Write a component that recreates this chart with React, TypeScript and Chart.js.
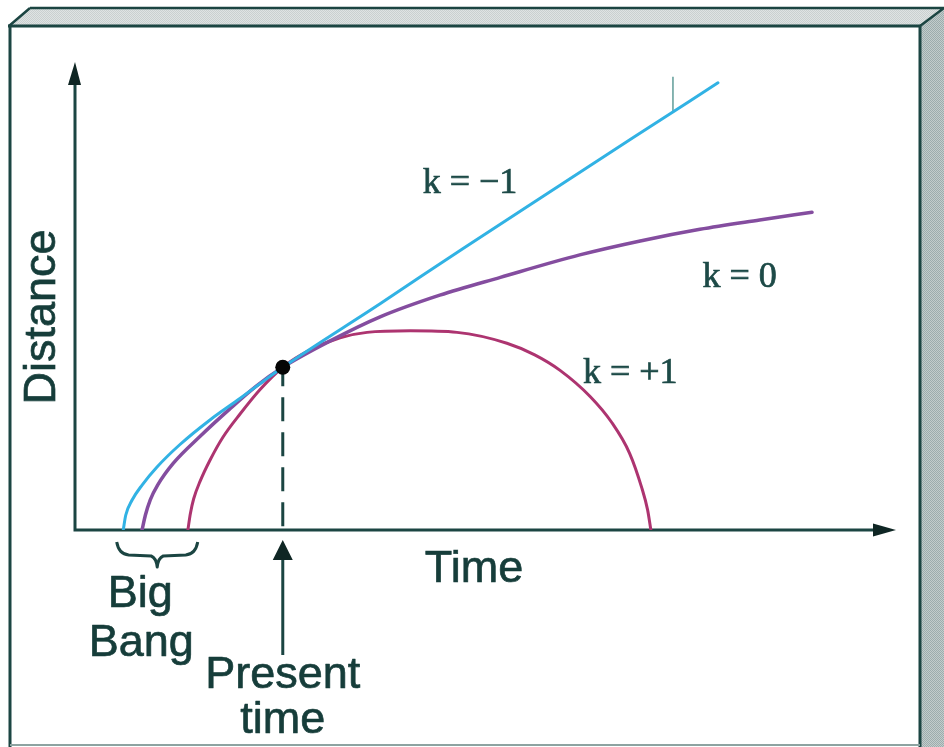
import { useEffect, useRef } from "react";
import { Chart, registerables } from "chart.js";

Chart.register(...registerables);

// Horizontal axis: time (0–10), vertical axis: distance (0–6), arbitrary units.
const TIME_MAX = 10;
const DIST_MAX = 6;

// Open universe, k = −1
const openTime = [0.59, 0.62, 0.7, 0.82, 1.0, 1.28, 1.65, 2.02, 2.29, 2.54, 3.73, 4.74, 5.77, 6.82, 7.86];
const openDist = [0, 0.19, 0.39, 0.58, 0.81, 1.1, 1.42, 1.7, 1.91, 2.1, 2.92, 3.63, 4.34, 5.06, 5.77];

// Flat universe, k = 0
const flatTime = [0.82, 0.86, 0.92, 1.01, 1.2, 1.53, 1.89, 2.22, 2.54, 3.12, 3.73, 4.46, 5.2, 6.17, 6.91, 7.64, 8.37, 9.01];
const flatDist = [0, 0.19, 0.39, 0.58, 0.86, 1.21, 1.56, 1.86, 2.1, 2.44, 2.75, 3.03, 3.26, 3.55, 3.73, 3.88, 4.0, 4.1];

// Closed universe, k = +1
const closedTime = [1.38, 1.41, 1.45, 1.53, 1.65, 1.81, 2.02, 2.26, 2.54, 2.87, 3.24, 3.57, 4.1, 4.67, 5.28, 5.62, 5.93, 6.3, 6.56, 6.78, 6.93, 7.0, 7.04];
const closedDist = [0, 0.21, 0.4, 0.63, 0.9, 1.2, 1.5, 1.81, 2.1, 2.32, 2.48, 2.55, 2.57, 2.55, 2.41, 2.26, 2.06, 1.72, 1.39, 0.99, 0.54, 0.26, 0];

// Where we are today
const presentTime = 2.54;
const presentDist = 2.1;

// Short vertical stroke above the k = −1 line
const stubTime = [7.31, 7.31];
const stubDist = [5.38, 5.85];

// Range of Big Bang moments marked by the brace
const bigBangTime = [0.51, 1.5];

const curveLabels = ["k = −1", "k = 0", "k = +1"];
const curveLabelTime = [4.25, 7.67, 6.21];
const curveLabelDist = [4.35, 3.14, 1.9];

const W = 944;
const H = 747;
const INK = "#1b4542";
const TEXT = "#163d3a";
const SANS = "'Liberation Sans', Arial, sans-serif";
const SERIF = "'Liberation Serif', 'Times New Roman', serif";

const pts = (xs: number[], ys: number[]) => xs.map((x, i) => ({ x, y: ys[i] }));

function ditherPattern(ctx: CanvasRenderingContext2D, a: string, b: string) {
  const c = document.createElement("canvas");
  c.width = 4;
  c.height = 4;
  const p = c.getContext("2d")!;
  p.fillStyle = a;
  p.fillRect(0, 0, 4, 4);
  p.fillStyle = b;
  for (let y = 0; y < 4; y++) {
    for (let x = 0; x < 4; x++) {
      if ((x + y) % 2 === 0) p.fillRect(x, y, 1, 1);
    }
  }
  return ctx.createPattern(c, "repeat")!;
}

// Text drawn with a hairline outline so it reads a little heavier
function label(ctx: CanvasRenderingContext2D, text: string, x: number, y: number) {
  ctx.fillText(text, x, y);
  ctx.strokeText(text, x, y);
}

// Bevelled panel behind the diagram
const framePlugin = {
  id: "frame",
  beforeDraw(chart: any) {
    const ctx: CanvasRenderingContext2D = chart.ctx;
    ctx.save();
    ctx.fillStyle = "#ffffff";
    ctx.fillRect(0, 0, W, H);

    // right face
    ctx.fillStyle = ditherPattern(ctx, "#c3cccc", "#9cadad");
    ctx.beginPath();
    ctx.moveTo(920, 26);
    ctx.lineTo(944, 8);
    ctx.lineTo(944, H);
    ctx.lineTo(920, H);
    ctx.closePath();
    ctx.fill();

    // top face
    ctx.fillStyle = ditherPattern(ctx, "#dfe3e3", "#c9d0d0");
    ctx.beginPath();
    ctx.moveTo(9, 26);
    ctx.lineTo(30, 8);
    ctx.lineTo(944, 8);
    ctx.lineTo(920, 26);
    ctx.closePath();
    ctx.fill();

    ctx.strokeStyle = INK;
    ctx.lineCap = "butt";
    ctx.lineWidth = 2.5;
    ctx.beginPath();
    ctx.moveTo(30, 8);
    ctx.lineTo(944, 8);
    ctx.moveTo(9, 26);
    ctx.lineTo(30, 8);
    ctx.moveTo(920, 26);
    ctx.lineTo(944, 8);
    ctx.stroke();

    ctx.lineWidth = 3;
    ctx.beginPath();
    ctx.moveTo(8, 26);
    ctx.lineTo(921, 26);
    ctx.moveTo(920, 26);
    ctx.lineTo(920, H);
    ctx.moveTo(10, 26);
    ctx.lineTo(10, H);
    ctx.stroke();

    ctx.strokeStyle = "#8da3a1";
    ctx.lineWidth = 2;
    ctx.beginPath();
    ctx.moveTo(10, 745);
    ctx.lineTo(920, 745);
    ctx.stroke();
    ctx.restore();
  },
};

// Axis lines with arrowheads
const axesPlugin = {
  id: "axes",
  beforeDatasetsDraw(chart: any) {
    const ctx: CanvasRenderingContext2D = chart.ctx;
    const { x, y } = chart.scales;
    const x0 = x.getPixelForValue(0);
    const y0 = y.getPixelForValue(0);
    const xEnd = x.getPixelForValue(TIME_MAX);
    const yEnd = y.getPixelForValue(DIST_MAX);
    ctx.save();
    ctx.strokeStyle = INK;
    ctx.fillStyle = "#0f2624";
    ctx.lineWidth = 3;
    ctx.beginPath();
    ctx.moveTo(x0, y0);
    ctx.lineTo(x0, yEnd + 4);
    ctx.moveTo(x0 - 1.5, y0);
    ctx.lineTo(xEnd - 4, y0);
    ctx.stroke();

    ctx.beginPath();
    ctx.moveTo(x0, yEnd - 3);
    ctx.lineTo(x0 - 7, yEnd + 20);
    ctx.lineTo(x0 + 6, yEnd + 20);
    ctx.closePath();
    ctx.fill();

    ctx.beginPath();
    ctx.moveTo(xEnd + 3, y0);
    ctx.lineTo(xEnd - 20, y0 - 6.5);
    ctx.lineTo(xEnd - 20, y0 + 6.5);
    ctx.closePath();
    ctx.fill();
    ctx.restore();
  },
};

// Text labels, Big Bang brace and the "present time" pointer
const notesPlugin = {
  id: "notes",
  afterDraw(chart: any) {
    const ctx: CanvasRenderingContext2D = chart.ctx;
    const { x, y } = chart.scales;
    const y0 = y.getPixelForValue(0);
    const px = x.getPixelForValue(presentTime);
    ctx.save();
    ctx.lineWidth = 0.7;

    // curve labels
    ctx.fillStyle = "#1d4a47";
    ctx.strokeStyle = "#1d4a47";
    ctx.font = `36px ${SERIF}`;
    ctx.textAlign = "left";
    ctx.textBaseline = "alphabetic";
    curveLabels.forEach((t, i) => {
      label(ctx, t, x.getPixelForValue(curveLabelTime[i]), y.getPixelForValue(curveLabelDist[i]));
    });

    // axis titles
    ctx.fillStyle = TEXT;
    ctx.strokeStyle = TEXT;
    ctx.font = `45px ${SANS}`;
    ctx.textAlign = "center";
    label(ctx, "Time", 474, y0 + 52);
    ctx.save();
    ctx.translate(55, 317);
    ctx.rotate(-Math.PI / 2);
    label(ctx, "Distance", 0, 0);
    ctx.restore();

    // Big Bang brace
    const b0 = x.getPixelForValue(bigBangTime[0]);
    const b1 = x.getPixelForValue(bigBangTime[1]);
    const bm = (b0 + b1) / 2;
    const top = y0 + 12;
    ctx.strokeStyle = INK;
    ctx.lineWidth = 3;
    ctx.lineJoin = "round";
    ctx.beginPath();
    ctx.moveTo(b0, top);
    ctx.quadraticCurveTo(b0 + 2, top + 12, b0 + 12, top + 13);
    ctx.lineTo(bm - 6, top + 14);
    ctx.quadraticCurveTo(bm - 1, top + 16, bm, top + 25);
    ctx.quadraticCurveTo(bm + 1, top + 16, bm + 6, top + 14);
    ctx.lineTo(b1 - 12, top + 13);
    ctx.quadraticCurveTo(b1 - 2, top + 12, b1, top);
    ctx.stroke();

    ctx.lineWidth = 0.7;
    ctx.strokeStyle = TEXT;
    label(ctx, "Big", bm - 17, y0 + 77);
    label(ctx, "Bang", bm - 16, y0 + 126);

    // present time pointer
    ctx.strokeStyle = INK;
    ctx.lineWidth = 3;
    ctx.beginPath();
    ctx.moveTo(px, y0 + 28);
    ctx.lineTo(px, y0 + 125);
    ctx.stroke();
    ctx.fillStyle = "#0f2624";
    ctx.beginPath();
    ctx.moveTo(px, y0 + 10);
    ctx.lineTo(px - 10, y0 + 30);
    ctx.lineTo(px + 10, y0 + 30);
    ctx.closePath();
    ctx.fill();

    ctx.fillStyle = TEXT;
    ctx.strokeStyle = TEXT;
    ctx.lineWidth = 0.7;
    label(ctx, "Present", px, y0 + 158);
    label(ctx, "time", px, y0 + 203);
    ctx.restore();
  },
};

export default function App() {
  const ref = useRef<HTMLCanvasElement | null>(null);

  useEffect(() => {
    if (!ref.current) return;
    const line = {
      showLine: true,
      pointRadius: 0,
      cubicInterpolationMode: "monotone" as const,
      borderCapStyle: "round" as const,
      fill: false,
    };
    const chart = new Chart(ref.current, {
      type: "scatter",
      data: {
        datasets: [
          {
            label: "present",
            data: [{ x: presentTime, y: presentDist }],
            pointRadius: 7.5,
            pointBackgroundColor: "#050505",
            pointBorderWidth: 0,
            showLine: false,
            order: 0,
          },
          { ...line, label: curveLabels[0], data: pts(openTime, openDist), borderColor: "#31b2e4", borderWidth: 3, order: 1 },
          { ...line, label: curveLabels[1], data: pts(flatTime, flatDist), borderColor: "#844d9f", borderWidth: 3.5, order: 2 },
          { ...line, label: curveLabels[2], data: pts(closedTime, closedDist), borderColor: "#ad3470", borderWidth: 3, order: 3 },
          {
            ...line,
            label: "present-drop",
            data: [
              { x: presentTime, y: presentDist },
              { x: presentTime, y: 0 },
            ],
            borderColor: INK,
            borderWidth: 3,
            borderDash: [24, 11],
            borderDashOffset: 5,
            borderCapStyle: "butt" as const,
            cubicInterpolationMode: "default" as const,
            order: 4,
          },
          {
            ...line,
            label: "stub",
            data: pts(stubTime, stubDist),
            borderColor: "#5f9c98",
            borderWidth: 1.5,
            borderCapStyle: "butt" as const,
            cubicInterpolationMode: "default" as const,
            order: 5,
          },
        ],
      },
      options: {
        animation: false,
        responsive: false,
        devicePixelRatio: 1,
        events: [],
        layout: { padding: { left: 75, top: 65, right: 51, bottom: 217 } },
        scales: {
          x: { type: "linear", min: 0, max: TIME_MAX, display: false },
          y: { type: "linear", min: 0, max: DIST_MAX, display: false },
        },
        plugins: {
          legend: { display: false },
          tooltip: { enabled: false },
        },
      },
      plugins: [framePlugin, axesPlugin, notesPlugin],
    });
    return () => chart.destroy();
  }, []);

  return (
    <div style={{ position: "fixed", left: 0, top: 0, width: W, height: H, background: "#fff" }}>
      <canvas ref={ref} width={W} height={H} style={{ width: W, height: H, display: "block" }} />
    </div>
  );
}
